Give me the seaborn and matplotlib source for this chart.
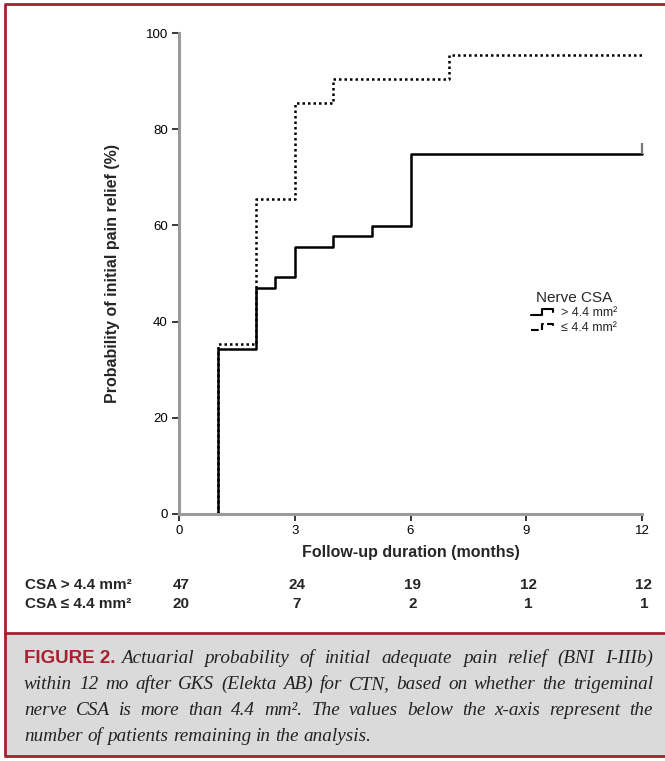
import matplotlib
matplotlib.use("Agg")
import numpy as np
import pandas as pd
import matplotlib.pyplot as plt
import matplotlib.transforms as mtransforms
from matplotlib.lines import Line2D
from matplotlib.patches import Rectangle
from matplotlib.legend_handler import HandlerBase
import seaborn as sns

# survival-style step data
months_large = [1, 1, 2, 2.5, 3, 4, 5, 6, 12]
relief_large = [0, 34.3, 47.0, 49.3, 55.6, 57.8, 59.9, 74.8, 74.8]
months_small = [1, 1, 2, 3, 4, 7, 12]
relief_small = [0, 35.3, 65.4, 85.4, 90.4, 95.5, 95.5]

group_names = ["> 4.4 mm²", "≤ 4.4 mm²"]
risk_months = [0, 3, 6, 9, 12]
at_risk_large = [47, 24, 19, 12, 12]
at_risk_small = [20, 7, 2, 1, 1]
row_labels = ["CSA > 4.4 mm²", "CSA ≤ 4.4 mm²"]

caption_lines = [
    "Actuarial probability of initial adequate pain relief (BNI I-IIIb)",
    "within 12 mo after GKS (Elekta AB) for CTN, based on whether the trigeminal",
    "nerve CSA is more than 4.4 mm². The values below the x-axis represent the",
    "number of patients remaining in the analysis.",
]

W, H = 665, 761
RED = "#a8202f"


def px(x):
    return x / W


def py(y):
    return 1 - y / H


df = pd.concat([
    pd.DataFrame({"month": months_large, "relief": relief_large, "group": group_names[0]}),
    pd.DataFrame({"month": months_small, "relief": relief_small, "group": group_names[1]}),
], ignore_index=True)

sns.set_style("white")
plt.rcParams["font.family"] = ["Liberation Sans", "DejaVu Sans"]

fig = plt.figure(figsize=(W / 100, H / 100), dpi=100)
ax = fig.add_axes([px(179), py(514), px(642) - px(179), py(33) - py(514)])

sns.lineplot(data=df, x="month", y="relief", style="group", color="black",
             dashes={group_names[0]: "", group_names[1]: (1, 1.2)},
             drawstyle="steps-post", estimator=None, sort=False,
             linewidth=1.8, legend=False, ax=ax, clip_on=False)
# censor tick at the end of the solid curve
ax.vlines(months_large[-1], relief_large[-1], relief_large[-1] + 2.3,
          color="#777777", lw=1.6, clip_on=False)

ax.set_xlim(0, 12)
ax.set_ylim(0, 100)
ax.set_xticks(risk_months)
ax.set_yticks([0, 20, 40, 60, 80, 100])
for side in ["top", "right"]:
    ax.spines[side].set_visible(False)
for side in ["left", "bottom"]:
    ax.spines[side].set_color("#9a9a9a")
    ax.spines[side].set_linewidth(2.2)
ax.tick_params(axis="both", direction="out", length=5, width=1.1, color="black",
               labelsize=9.5, labelcolor="black", pad=3,
               left=True, bottom=True)

ax.set_ylabel("Probability of initial pain relief (%)", fontsize=11.5, fontweight="bold")
ax.yaxis.set_label_coords(-(179 - 120) / 463, 0.5)
ax.set_xlabel("Follow-up duration (months)", fontsize=11.5, fontweight="bold")
ax.xaxis.set_label_coords(0.5, -(545 - 514) / 481)


class StepHandler(HandlerBase):
    def create_artists(self, legend, orig_handle, xdescent, ydescent,
                       width, height, fontsize, trans):
        xs = np.array([0.0, 0.45, 0.45, 0.95, 0.95]) * width - xdescent
        ys = np.array([0.1, 0.1, 0.8, 0.8, 0.45]) * height - ydescent
        ln = Line2D(xs, ys, color=orig_handle.get_color(),
                    linestyle=orig_handle.get_linestyle(),
                    linewidth=orig_handle.get_linewidth(), transform=trans)
        return [ln]


handles = [Line2D([], [], color="black", lw=1.5, ls="-"),
           Line2D([], [], color="black", lw=1.5, ls=(0, (1, 1.3)))]
leg = ax.legend(handles, group_names, title="Nerve CSA", frameon=False,
                loc="center", bbox_to_anchor=(px(574), py(312)),
                bbox_transform=fig.transFigure, fontsize=9, title_fontsize=11,
                handlelength=1.9, handletextpad=0.5, labelspacing=0.2,
                handler_map={h: StepHandler() for h in handles})

# numbers at risk under the axis
risk_tr = mtransforms.blended_transform_factory(ax.transData, fig.transFigure)
for row_y, label, counts in [(585, row_labels[0], at_risk_large),
                             (604, row_labels[1], at_risk_small)]:
    fig.text(px(25), py(row_y), label, fontsize=11, fontweight="bold",
             ha="left", va="center")
    for m, n in zip(risk_months, counts):
        ax.text(m + 0.05, py(row_y), str(n), transform=risk_tr, fontsize=11,
                fontweight="bold", ha="center", va="center")

# caption box and red frame
fig.patches.append(Rectangle((px(5), py(756)), 1 - px(5), py(633) - py(756),
                             transform=fig.transFigure, facecolor="#dadada",
                             edgecolor="none", zorder=0))
frame_kw = dict(transform=fig.transFigure, color=RED, lw=2.0, solid_capstyle="butt")
fig.lines.extend([
    Line2D([px(4), 1], [py(4), py(4)], **frame_kw),
    Line2D([px(5), px(5)], [py(4), py(756)], **frame_kw),
    Line2D([px(4), 1], [py(633), py(633)], **frame_kw),
    Line2D([px(4), 1], [py(756), py(756)], **frame_kw),
])

renderer = fig.canvas.get_renderer()
cap_kw = dict(family=["Liberation Serif", "DejaVu Serif"], style="italic",
              fontsize=13.8, color="#222222", va="baseline")
fig_label = fig.text(px(24), py(663), "FIGURE 2.", fontsize=13.5, fontweight="bold",
                     color=RED, va="baseline")
label_right = fig_label.get_window_extent(renderer).x1


def text_width(s):
    t = fig.text(0, 0, s, **cap_kw)
    w = t.get_window_extent(renderer).width
    t.remove()
    return w


def justify(words, x0, x1, y, last=False):
    texts = [fig.text(0, y, w, **cap_kw) for w in words]
    widths = [t.get_window_extent(renderer).width for t in texts]
    if last:
        gap_w = text_width("a a") - 2 * text_width("a")
    else:
        gap_w = (x1 - x0 - sum(widths)) / (len(words) - 1)
    x = x0
    for t, w in zip(texts, widths):
        t.set_x(x / W)
        x += w + gap_w


line_y = [663, 689, 715, 741]
right_px = 653
justify(caption_lines[0].split(), label_right + 6, right_px, py(line_y[0]))
justify(caption_lines[1].split(), 24, right_px, py(line_y[1]))
justify(caption_lines[2].split(), 24, right_px, py(line_y[2]))
justify(caption_lines[3].split(), 24, right_px, py(line_y[3]), last=True)

fig.savefig("out.png", dpi=100)
